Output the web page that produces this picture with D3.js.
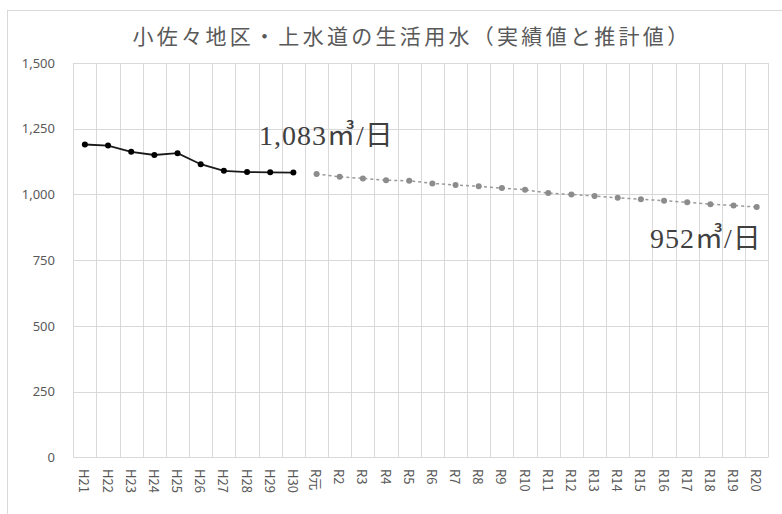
<!DOCTYPE html>
<html>
<head>
<meta charset="utf-8">
<script src="https://cdn.jsdelivr.net/npm/d3@7"></script>
<style>
  html, body { margin: 0; padding: 0; background: #fff; }
  svg { display: block; }
</style>
</head>
<body>
<svg id="chart" width="782" height="514"></svg>
<script>
// 年度ラベル（平成21年度〜令和20年度）
const categories = [
  "H21","H22","H23","H24","H25","H26","H27","H28","H29","H30",
  "R元","R2","R3","R4","R5","R6","R7","R8","R9","R10",
  "R11","R12","R13","R14","R15","R16","R17","R18","R19","R20"
];
// 実績値（㎥/日）
const actual = [1190, 1186, 1162, 1150, 1157, 1115, 1090, 1085, 1084, 1083];
// 推計値（㎥/日）
const estimate = [1078, 1067, 1061, 1054, 1052, 1042, 1036, 1031, 1024, 1018,
                  1005, 1000, 994, 987, 982, 976, 970, 963, 958, 952];
const yTicks = [0, 250, 500, 750, 1000, 1250, 1500];
const title = "小佐々地区・上水道の生活用水（実績値と推計値）";
const actualLabel = "1,083㎥/日";
const estimateLabel = "952㎥/日";

const svg = d3.select("#chart");
const W = 782, H = 514;
const plot = { left: 73.3, right: 768.3, top: 63, bottom: 457.3 };

// 外枠
svg.append("rect")
  .attr("x", 7.5).attr("y", 10.5)
  .attr("width", W + 10).attr("height", H + 10)
  .attr("fill", "#fff").attr("stroke", "#d9d9d9").attr("stroke-width", 1);

const x = d3.scaleBand().domain(categories).range([plot.left, plot.right]).padding(0);
const y = d3.scaleLinear().domain([0, 1500]).range([plot.bottom, plot.top]);
const cx = d => x(d) + x.bandwidth() / 2;

// 横グリッド
svg.append("g").selectAll("line").data(yTicks).join("line")
  .attr("x1", plot.left).attr("x2", plot.right)
  .attr("y1", d => Math.round(y(d)) + 0.5).attr("y2", d => Math.round(y(d)) + 0.5)
  .attr("stroke", "#d9d9d9").attr("stroke-width", 1);

// 縦グリッド（項目の境界）
const bounds = categories.map(c => x(c)).concat([plot.right]);
svg.append("g").selectAll("line").data(bounds).join("line")
  .attr("x1", d => Math.round(d) + 0.5).attr("x2", d => Math.round(d) + 0.5)
  .attr("y1", plot.top).attr("y2", plot.bottom)
  .attr("stroke", "#d9d9d9").attr("stroke-width", 1);

// Y軸目盛ラベル
const yAxis = d3.axisLeft(y).tickValues(yTicks).tickSize(0).tickPadding(0)
  .tickFormat(d3.format(","));
const gy = svg.append("g").attr("transform", `translate(55,0)`).call(yAxis);
gy.select(".domain").remove();
gy.selectAll("text")
  .attr("fill", "#595959")
  .style("font-family", "'Noto Sans', 'Noto Sans CJK JP', sans-serif")
  .style("font-size", "13px");

// X軸ラベル（縦書き回転）
const gx = svg.append("g");
gx.selectAll("text").data(categories).join("text")
  .attr("transform", d => `translate(${cx(d)},469) rotate(90)`)
  .attr("dominant-baseline", "central")
  .attr("text-anchor", "start")
  .attr("fill", "#595959")
  .style("font-family", "'Noto Sans CJK JP', 'Noto Sans', sans-serif")
  .style("font-size", "13px")
  .text(d => d);

// 実績値・推計値ライン
const actualPts = actual.map((v, i) => ({ c: categories[i], v }));
const estPts = estimate.map((v, i) => ({ c: categories[i + actual.length], v }));
const line = d3.line().x(d => cx(d.c)).y(d => y(d.v));

svg.append("path").datum(estPts)
  .attr("d", line).attr("fill", "none")
  .attr("stroke", "#9a9a9a").attr("stroke-width", 1.5)
  .attr("stroke-dasharray", "3,3");
svg.append("g").selectAll("circle").data(estPts).join("circle")
  .attr("cx", d => cx(d.c)).attr("cy", d => y(d.v)).attr("r", 3)
  .attr("fill", "#8c8c8c");

svg.append("path").datum(actualPts)
  .attr("d", line).attr("fill", "none")
  .attr("stroke", "#1a1a1a").attr("stroke-width", 1.8);
svg.append("g").selectAll("circle").data(actualPts).join("circle")
  .attr("cx", d => cx(d.c)).attr("cy", d => y(d.v)).attr("r", 3)
  .attr("fill", "#000");

// タイトル
svg.append("text")
  .attr("x", 412).attr("y", 44)
  .attr("text-anchor", "middle")
  .attr("fill", "#595959")
  .style("font-family", "'Noto Sans CJK JP', sans-serif")
  .style("font-size", "21px")
  .style("letter-spacing", "3.3px")
  .text(title);

// 値ラベル
const labelFont = "'Liberation Serif', 'Noto Sans CJK JP', serif";
svg.append("text")
  .attr("x", 259).attr("y", 145)
  .attr("fill", "#404040")
  .style("font-family", labelFont)
  .style("font-size", "28px")
  .style("letter-spacing", "1px")
  .text(actualLabel);
svg.append("text")
  .attr("x", 650).attr("y", 248)
  .attr("fill", "#404040")
  .style("font-family", labelFont)
  .style("font-size", "28px")
  .style("letter-spacing", "1px")
  .text(estimateLabel);
</script>
</body>
</html>
